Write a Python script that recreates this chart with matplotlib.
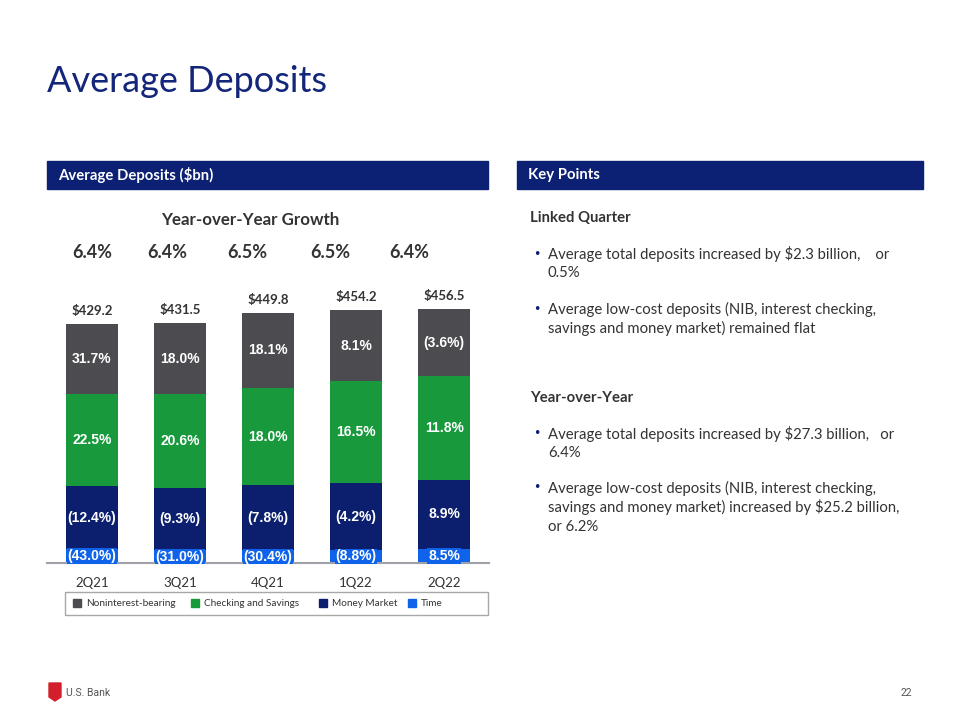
import matplotlib.pyplot as plt
import matplotlib.patches as mpatches

# data ($bn)
quarters = ["2Q21", "3Q21", "4Q21", "1Q22", "2Q22"]
totals = [429.2, 431.5, 449.8, 454.2, 456.5]
yoy_growth = ["6.4%", "6.4%", "6.5%", "6.5%", "6.4%"]

nib = [126.0, 128.8, 136.0, 127.7, 121.3]
checking = [165.8, 167.6, 174.6, 183.7, 186.0]
money_market = [112.4, 112.5, 116.5, 118.8, 123.5]
time_dep = [25.0, 22.6, 22.7, 24.0, 25.7]

nib_lbl = ["31.7%", "18.0%", "18.1%", "8.1%", "(3.6%)"]
chk_lbl = ["22.5%", "20.6%", "18.0%", "16.5%", "11.8%"]
mm_lbl = ["(12.4%)", "(9.3%)", "(7.8%)", "(4.2%)", "8.9%"]
time_lbl = ["(43.0%)", "(31.0%)", "(30.4%)", "(8.8%)", "8.5%"]

NAVY = "#0C2074"
GRAY = "#4B4B50"
GREEN = "#17993C"
DARK = "#0B1F6E"
BLUE = "#0F63EA"
TXT = "#333333"
FONT = "Lato"

W, H = 960, 720
fig = plt.figure(figsize=(9.6, 7.2), dpi=100)


def fx(x):
    return x / W


def fy(y):
    return 1 - y / H


def ptext(x, y, s, **kw):
    fig.text(fx(x), fy(y), s, **kw)


# title
ptext(47, 82, "Average Deposits", fontsize=26, color="#13267A",
      family=FONT, va="center")

# header bars
for x0, x1, label in [(47, 488, "Average Deposits ($bn)"), (517, 923, "Key Points")]:
    fig.patches.append(mpatches.Rectangle((fx(x0), fy(189)), fx(x1 - x0), (189 - 161) / H,
                                          transform=fig.transFigure, color=NAVY, zorder=0))
    ptext(x0 + 11, 175, label, fontsize=10.7, color="white", weight="bold",
          family=FONT, va="center")

# chart
ax = fig.add_axes([fx(47), fy(563), fx(489 - 47), (563 - 290) / H])
x = range(len(quarters))
bw = 0.59
b1 = ax.bar(x, time_dep, bw, color=BLUE, zorder=2)
bottom = list(time_dep)
b2 = ax.bar(x, money_market, bw, bottom=bottom, color=DARK, zorder=2)
bottom = [a + b for a, b in zip(bottom, money_market)]
b3 = ax.bar(x, checking, bw, bottom=bottom, color=GREEN, zorder=2)
bottom = [a + b for a, b in zip(bottom, checking)]
b4 = ax.bar(x, nib, bw, bottom=bottom, color=GRAY, zorder=2)

for bars, labels in [(b2, mm_lbl), (b3, chk_lbl), (b4, nib_lbl)]:
    for r, lab in zip(bars, labels):
        ax.text(r.get_x() + r.get_width() / 2, r.get_y() + r.get_height() / 2, lab,
                ha="center", va="center", color="white", weight="bold",
                fontsize=10, family="Liberation Sans", zorder=3)
for r, lab in zip(b1, time_lbl):
    ax.text(r.get_x() + r.get_width() / 2, r.get_y() + r.get_height() / 2, lab,
            ha="center", va="center", color="white", weight="bold", fontsize=10,
            family="Liberation Sans", zorder=3,
            bbox=dict(boxstyle="square,pad=0.05", fc=BLUE, ec="none"))

for i, t in enumerate(totals):
    ax.annotate(f"${t:.1f}", (i, t), xytext=(0, 5), textcoords="offset points",
                ha="center", va="bottom", fontsize=9.5, weight="bold",
                color=TXT, family=FONT)

ax.set_xlim(-0.51, 4.51)
ax.set_ylim(0, 273 * 1.796)
ax.set_xticks(list(x))
ax.set_xticklabels(quarters, fontsize=9.5, color=TXT, family=FONT)
ax.tick_params(axis="x", length=0, pad=10)
ax.set_yticks([])
for s in ["top", "left", "right"]:
    ax.spines[s].set_visible(False)
ax.spines["bottom"].set_color("#A0A0A8")
ax.spines["bottom"].set_linewidth(1.5)

ptext(250, 220, "Year-over-Year Growth", fontsize=12.2, weight="bold", color=TXT,
      family=FONT, ha="center", va="center")
for gx, g in zip([92, 167, 247, 330, 409], yoy_growth):
    ptext(gx, 252, g, fontsize=13, weight="bold", color=TXT, family=FONT,
          ha="center", va="center")

# legend box
fig.patches.append(mpatches.Rectangle((fx(65), fy(615)), fx(488 - 65), (615 - 592) / H,
                                      transform=fig.transFigure, fc="white",
                                      ec="#A8A8A8", lw=1, zorder=0))
for lx, col, lab in [(77, GRAY, "Noninterest-bearing"), (195, GREEN, "Checking and Savings"),
                     (323, DARK, "Money Market"), (412, BLUE, "Time")]:
    fig.patches.append(mpatches.Rectangle((fx(lx - 4), fy(607)), 8 / W, 8 / H,
                                          transform=fig.transFigure, color=col))
    ptext(lx + 9, 603, lab, fontsize=7.2, color=TXT, family=FONT, va="center")

# key points
kp = dict(fontsize=10.7, color=TXT, family=FONT, va="center")
ptext(530, 218, "Linked Quarter", weight="bold", **kp)
ptext(530, 398, "Year-over-Year", weight="bold", **kp)
bullets = [
    (254, ["Average total deposits increased by $2.3 billion,    or", "0.5%"]),
    (309, ["Average low-cost deposits (NIB, interest checking,",
           "savings and money market) remained flat"]),
    (434, ["Average total deposits increased by $27.3 billion,   or", "6.4%"]),
    (488, ["Average low-cost deposits (NIB, interest checking,",
           "savings and money market) increased by $25.2 billion,", "or 6.2%"]),
]
for y0, lines in bullets:
    ptext(533, y0, "\u2022", fontsize=9, color=NAVY, va="center")
    for k, line in enumerate(lines):
        ptext(548, y0 + 19.3 * k, line, **kp)

# footer
shield = mpatches.Polygon([(fx(49), fy(683)), (fx(61), fy(683)), (fx(61), fy(697)),
                           (fx(55), fy(701)), (fx(49), fy(697))],
                          closed=True, transform=fig.transFigure, color="#D21F2B")
fig.patches.append(shield)
ptext(66, 693, "U.S. Bank", fontsize=7.5, color="#555555", family="Roboto", va="center")
ptext(912, 693, "22", fontsize=7.5, color="#555555", family="Roboto", va="center", ha="right")

fig.savefig("out.png", dpi=100)
